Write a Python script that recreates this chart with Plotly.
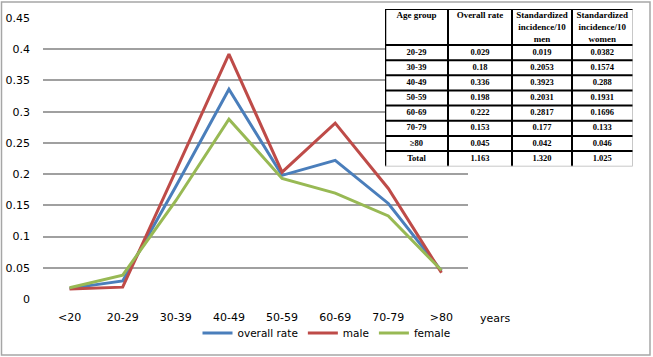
import plotly.graph_objects as go

W, H = 653, 357

age_groups = ["<20", "20-29", "30-39", "40-49", "50-59", "60-69", "70-79", ">80"]
overall_rate = [0.017, 0.029, 0.18, 0.336, 0.198, 0.222, 0.153, 0.045]
male = [0.016, 0.019, 0.2053, 0.3923, 0.2031, 0.2817, 0.177, 0.042]
female = [0.018, 0.0382, 0.1574, 0.288, 0.1931, 0.1696, 0.133, 0.046]

y_ticks = [0, 0.05, 0.1, 0.15, 0.2, 0.25, 0.3, 0.35, 0.4, 0.45]
y_tick_labels = ["0", "0.05", "0.1", "0.15", "0.2", "0.25", "0.3", "0.35", "0.4", "0.45"]

table_header = ["Age group", "Overall rate", "Standardized<br>incidence/10<br>men",
                "Standardized<br>incidence/10<br>women"]
table_age = ["20-29", "30-39", "40-49", "50-59", "60-69", "70-79", "≥80", "Total"]
table_overall = ["0.029", "0.18", "0.336", "0.198", "0.222", "0.153", "0.045", "1.163"]
table_men = ["0.019", "0.2053", "0.3923", "0.2031", "0.2817", "0.177", "0.042", "1.320"]
table_women = ["0.0382", "0.1574", "0.288", "0.1931", "0.1696", "0.133", "0.046", "1.025"]

colors = {"overall rate": "#4A7EBB", "male": "#BE4B48", "female": "#98B954"}

# table grid geometry (in the table axes' own units)
col_edges = [0, 63, 127, 187, 247.5]
header_h = 36
row_h = 15.15
n_rows = len(table_age)
row_edges = [0] + [header_h + i * row_h for i in range(n_rows + 1)]
table_bottom = row_edges[-1]

fig = go.Figure()
for name, vals in [("overall rate", overall_rate), ("male", male), ("female", female)]:
    fig.add_trace(go.Scatter(x=age_groups, y=vals, mode="lines", name=name,
                             line=dict(color=colors[name], width=3)))

serif = "Liberation Serif"
col_centers = [(col_edges[i] + col_edges[i + 1]) / 2 for i in range(4)]
row_centers = [(row_edges[i] + row_edges[i + 1]) / 2 for i in range(1, n_rows + 1)]

# header texts
fig.add_trace(go.Scatter(x=col_centers, y=[2.5] * 4, text=table_header, mode="text",
                         textposition="bottom center", xaxis="x2", yaxis="y2",
                         showlegend=False, hoverinfo="skip",
                         textfont=dict(family=serif, size=9, color="black", weight="bold")))
# body texts
for ci, col in enumerate([table_age, table_overall, table_men, table_women]):
    fig.add_trace(go.Scatter(x=[col_centers[ci]] * n_rows, y=row_centers, text=col,
                             mode="text", textposition="middle center",
                             xaxis="x2", yaxis="y2", showlegend=False, hoverinfo="skip",
                             textfont=dict(family=serif, size=8.5, color="black",
                                           weight="bold")))

shapes = [
    # figure frame
    dict(type="rect", xref="paper", yref="paper", x0=1.5 / W, x1=650 / W,
         y0=1 - 355 / H, y1=1 - 2 / H, line=dict(color="#a6a6a6", width=1.5),
         layer="below"),
    # white table background
    dict(type="rect", xref="x2", yref="y2", x0=col_edges[0], x1=col_edges[-1],
         y0=0, y1=table_bottom, fillcolor="white", line=dict(width=0), layer="between"),
]
for i, xe in enumerate(col_edges):
    last = i == len(col_edges) - 1
    shapes.append(dict(type="line", xref="x2", yref="y2", x0=xe, x1=xe, y0=0, y1=table_bottom,
                       line=dict(color="#c8c8c8" if last else "black",
                                 width=1 if last else (2.5 if i == 0 else 2)),
                       layer="above"))
for i, ye in enumerate(row_edges):
    last = i == len(row_edges) - 1
    shapes.append(dict(type="line", xref="x2", yref="y2", x0=col_edges[0], x1=col_edges[-1],
                       y0=ye, y1=ye,
                       line=dict(color="#c8c8c8" if last else "black",
                                 width=1 if last else 2),
                       layer="above"))

fig.update_layout(
    width=W, height=H,
    margin=dict(l=0, r=0, t=0, b=0, autoexpand=False),
    paper_bgcolor="white", plot_bgcolor="white",
    font=dict(family="DejaVu Sans", size=11, color="#000000"),
    showlegend=True,
    legend=dict(orientation="h", xref="paper", yref="paper",
                x=0.5, xanchor="center", y=1 - 333 / H, yanchor="middle",
                font=dict(size=10.5, color="#000000"), tracegroupgap=0,
                bgcolor="rgba(0,0,0,0)"),
    xaxis=dict(domain=[43 / W, 468 / W], type="category", range=[-0.5, 7.5],
               showgrid=False, showline=False, zeroline=False, ticks="",
               automargin=False, tickfont=dict(size=11), ticklabelstandoff=10),
    yaxis=dict(domain=[1 - 299 / H, 1 - 18 / H], range=[0, 0.45],
               tickvals=y_ticks, ticktext=y_tick_labels, automargin=False,
               showgrid=True, gridcolor="#a0a0a0", gridwidth=1.5,
               zeroline=False, showline=False, ticks="",
               tickfont=dict(size=11), ticklabelstandoff=12),
    xaxis2=dict(domain=[385 / W, 633 / W], range=[0, 248], visible=False,
                fixedrange=True, anchor="y2"),
    yaxis2=dict(domain=[1 - 167 / H, 1 - 9 / H], range=[158, 0], visible=False,
                fixedrange=True, anchor="x2"),
    annotations=[dict(text="years", xref="paper", yref="paper",
                      x=495 / W, y=1 - 318 / H,
                      showarrow=False, font=dict(size=11), xanchor="center",
                      yanchor="middle")],
    shapes=shapes,
)

fig.write_html("out.html", config={"displayModeBar": False},
               post_script="document.body.style.margin='0';document.body.style.padding='0';")
